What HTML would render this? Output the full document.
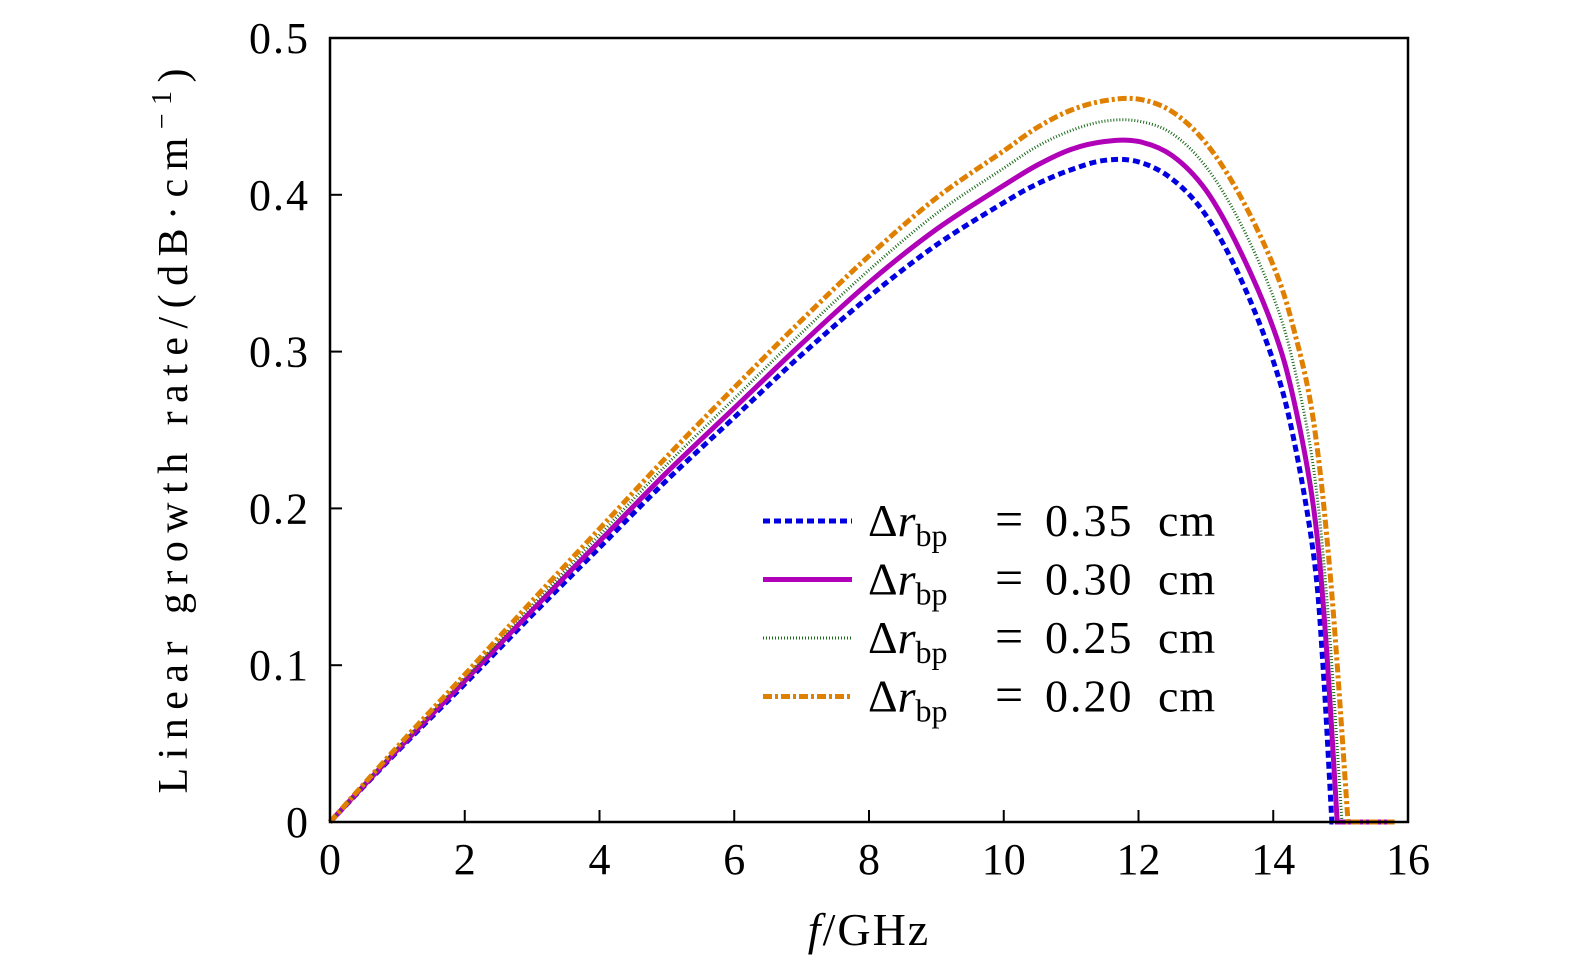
<!DOCTYPE html>
<html><head><meta charset="utf-8"><style>
html,body{margin:0;background:#fff;overflow:hidden;width:1575px;height:974px}
svg{display:block}
text{font-family:"Liberation Serif",serif;fill:#000}
</style></head><body>
<svg width="1575" height="974" xmlns="http://www.w3.org/2000/svg">
<g id="series"></g>
<rect x="330" y="38" width="1078" height="784" fill="none" stroke="#000" stroke-width="2.5"/>
<g id="ticks"></g>
<text x="869" y="945" font-size="46" text-anchor="middle" letter-spacing="2"><tspan font-style="italic">f</tspan>/GHz</text>
<text transform="translate(187,431) rotate(-90)" font-size="42" text-anchor="middle" textLength="725" lengthAdjust="spacing">Linear growth rate/(dB·cm<tspan dy="-16" font-size="28">−1</tspan><tspan dy="16">)</tspan></text>
<g id="legend"></g>
</svg>
<script>
const freqs=[0,1,2,3,4,5,6,7,8,9,10,10.5,11,11.5,12,12.5,13,13.5,14,14.3,14.6];
const legendValues=["0.35","0.30","0.25","0.20"];
const blue=[0,0.045,0.088,0.132,0.175,0.218,0.258,0.298,0.335,0.368,0.395,0.407,0.416,0.422,0.421,0.41,0.387,0.348,0.294,0.245,0.17];
const magenta=[0,0.046,0.09,0.135,0.179,0.223,0.264,0.305,0.344,0.378,0.406,0.419,0.429,0.434,0.434,0.425,0.403,0.365,0.315,0.27,0.2];
const green=[0,0.047,0.092,0.138,0.183,0.228,0.27,0.312,0.352,0.388,0.417,0.431,0.441,0.447,0.447,0.439,0.418,0.383,0.335,0.292,0.225];
const orange=[0,0.048,0.094,0.141,0.187,0.233,0.277,0.32,0.361,0.398,0.428,0.443,0.454,0.46,0.461,0.453,0.433,0.4,0.355,0.315,0.255];
const zeroCross=[14.87,14.95,15.02,15.11];
const xTicks=[0,2,4,6,8,10,12,14,16];
const yTicks=[0,0.1,0.2,0.3,0.4,0.5];
const yTickLabels=["0","0.1","0.2","0.3","0.4","0.5"];
const xMax=15.8;
const NS="http://www.w3.org/2000/svg";
const X=f=>330+f*(1078/16), Y=v=>822-v*(784/0.5);
const styles=[{c:"#0000e0",w:5,d:"7,4"},{c:"#b000b8",w:5,d:""},{c:"#1a6a1a",w:3,d:"1,2"},{c:"#e08000",w:5,d:"9,3,3,3"}];
const data=[blue,magenta,green,orange];
const sg=document.getElementById('series');
data.forEach((vals,i)=>{
  let pts=freqs.map((f,k)=>[X(f),Y(vals[k])]);
  const n=freqs.length-1,zc=zeroCross[i];
  const fm=(freqs[n]+zc)/2;
  pts.push([X(fm),Y(vals[n]*0.6)]);
  pts.push([X(zc),Y(0)]);
  const last=pts.length-1;
  let d=`M${pts[0][0]},${pts[0][1]}`;
  for(let k=0;k<last;k++){
    const p0=pts[Math.max(k-1,0)],p1=pts[k],p2=pts[k+1],p3=pts[Math.min(k+2,last)];
    const t=1/6;
    d+=` C${p1[0]+(p2[0]-p0[0])*t},${p1[1]+(p2[1]-p0[1])*t} ${p2[0]-(p3[0]-p1[0])*t},${p2[1]-(p3[1]-p1[1])*t} ${p2[0]},${p2[1]}`;
  }
  d+=` L${X(xMax)},${Y(0)}`;
  const p=document.createElementNS(NS,'path');
  
  
  p.setAttribute('d',d);p.setAttribute('fill','none');
  p.setAttribute('stroke',styles[i].c);p.setAttribute('stroke-width',styles[i].w);
  if(styles[i].d)p.setAttribute('stroke-dasharray',styles[i].d);
  sg.appendChild(p);
});
const tg=document.getElementById('ticks');
xTicks.forEach(t=>{
  const l=document.createElementNS(NS,'line');
  
  
  l.setAttribute('x1',X(t));l.setAttribute('x2',X(t));l.setAttribute('y1',822);l.setAttribute('y2',810);
  l.setAttribute('stroke','#000');l.setAttribute('stroke-width',2);tg.appendChild(l);
  const tx=document.createElementNS(NS,'text');
  
  
  tx.setAttribute('x',X(t));tx.setAttribute('y',874);tx.setAttribute('font-size',44);tx.setAttribute('text-anchor','middle');
  tx.textContent=t;tg.appendChild(tx);
});
yTicks.forEach((t,i)=>{
  const l=document.createElementNS(NS,'line');
  
  
  l.setAttribute('x1',330);l.setAttribute('x2',342);l.setAttribute('y1',Y(t));l.setAttribute('y2',Y(t));
  l.setAttribute('stroke','#000');l.setAttribute('stroke-width',2);tg.appendChild(l);
  const tx=document.createElementNS(NS,'text');
  
  
  tx.setAttribute('x',310);tx.setAttribute('y',Y(t)+15);tx.setAttribute('font-size',44);tx.setAttribute('text-anchor','end');
  tx.setAttribute('letter-spacing','2');
  tx.textContent=yTickLabels[i];tg.appendChild(tx);
});
const lg=document.getElementById('legend');
legendValues.forEach((v,i)=>{
  const y=521+i*58.5;
  const l=document.createElementNS(NS,'line');
  
  
  l.setAttribute('x1',763);l.setAttribute('x2',852);l.setAttribute('y1',y);l.setAttribute('y2',y);
  l.setAttribute('stroke',styles[i].c);l.setAttribute('stroke-width',styles[i].w);
  if(styles[i].d)l.setAttribute('stroke-dasharray',styles[i].d);
  lg.appendChild(l);
  const tx=document.createElementNS(NS,'text');
  
  
  tx.setAttribute('y',y+15);tx.setAttribute('font-size',46);
  tx.innerHTML='<tspan x="868">Δ</tspan><tspan font-style="italic">r</tspan><tspan font-size="32" dy="10">bp</tspan><tspan dy="-10" x="995" font-size="50">=</tspan><tspan x="1045" letter-spacing="2">'+v+'</tspan><tspan x="1158" letter-spacing="1">cm</tspan>';
  lg.appendChild(tx);
});
</script>
</body></html>
